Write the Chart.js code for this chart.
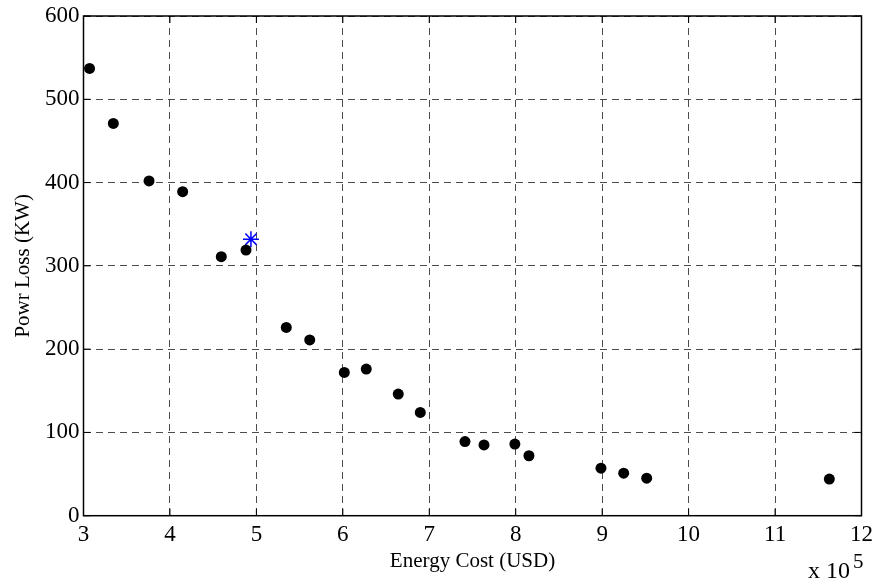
<!DOCTYPE html>
<html>
<head>
<meta charset="utf-8">
<script src="https://cdn.jsdelivr.net/npm/chart.js@4.4.1/dist/chart.umd.min.js"></script>
<style>
  html, body { margin: 0; padding: 0; background: #fff; }
  #wrap { width: 875px; height: 584px; }
</style>
</head>
<body>
<div id="wrap"><canvas id="chart" width="875" height="584"></canvas></div>
<script>
// energy cost in USD, power loss in kW
const energyCost = [307000, 334500, 375800, 414700, 459400, 488000, 534600, 561700,
  601700, 627100, 664100, 689600, 741300, 763300, 799000, 815300, 898600, 924900, 951500, 1162800];
const powerLoss = [537, 471, 402, 389, 311, 319, 226, 211,
  172, 176, 146, 124, 89, 85, 86, 72, 57, 51, 45, 44];

// selected solution (blue star)
const bestCost = [493700];
const bestLoss = [332];

const xTicks = [3, 4, 5, 6, 7, 8, 9, 10, 11, 12];
const yTicks = [0, 100, 200, 300, 400, 500, 600];

const serif = "'Liberation Serif', 'Times New Roman', serif";

const framePlugin = {
  id: "frame",
  afterDraw(chart) {
    const { ctx, chartArea: a } = chart;
    ctx.save();
    ctx.strokeStyle = "#000";
    ctx.lineWidth = 1.5;
    ctx.strokeRect(a.left, a.top, a.right - a.left, a.bottom - a.top);

    // small inward tick marks like matlab
    ctx.lineWidth = 1;
    const xs = chart.scales.x, ys = chart.scales.y;
    xTicks.forEach((t) => {
      const px = xs.getPixelForValue(t * 1e5);
      ctx.beginPath();
      ctx.moveTo(px, a.bottom); ctx.lineTo(px, a.bottom - 7);
      ctx.moveTo(px, a.top); ctx.lineTo(px, a.top + 7);
      ctx.stroke();
    });
    yTicks.forEach((t) => {
      const py = ys.getPixelForValue(t);
      ctx.beginPath();
      ctx.moveTo(a.left, py); ctx.lineTo(a.left + 7, py);
      ctx.moveTo(a.right, py); ctx.lineTo(a.right - 7, py);
      ctx.stroke();
    });

    // exponent label
    ctx.fillStyle = "#000";
    ctx.textBaseline = "alphabetic";
    ctx.textAlign = "left";
    ctx.font = "24px " + serif;
    ctx.fillText("x 10", 808, 578);
    ctx.font = "21px " + serif;
    ctx.fillText("5", 853, 568);
    ctx.restore();
  },
};

new Chart(document.getElementById("chart"), {
  type: "scatter",
  data: {
    datasets: [
      {
        label: "solutions",
        data: energyCost.map((c, i) => ({ x: c, y: powerLoss[i] })),
        pointStyle: "circle",
        pointRadius: 5.5,
        backgroundColor: "#000",
        borderColor: "#000",
        borderWidth: 0,
      },
      {
        label: "best",
        data: bestCost.map((c, i) => ({ x: c, y: bestLoss[i] })),
        pointStyle: "star",
        pointRadius: 8,
        backgroundColor: "#0000ff",
        borderColor: "#0000ff",
        borderWidth: 1.5,
      },
    ],
  },
  options: {
    responsive: false,
    animation: false,
    layout: { padding: { top: 16, right: 13.5, left: 0, bottom: 0 } },
    plugins: {
      legend: { display: false },
      tooltip: { enabled: false },
    },
    scales: {
      x: {
        type: "linear",
        min: 300000,
        max: 1200000,
        afterBuildTicks: (scale) => {
          scale.ticks = xTicks.map((v) => ({ value: v * 1e5 }));
        },
        afterFit: (scale) => {
          scale.height = 68.3;
          scale.paddingLeft = 0;
          scale.paddingRight = 0;
        },
        ticks: {
          color: "#000",
          font: { family: serif, size: 23 },
          padding: 5,
          maxRotation: 0,
          callback: (v) => String(Math.round(v / 1e5)),
        },
        grid: {
          color: "rgba(0,0,0,0.7)",
          lineWidth: 1,
          drawTicks: false,
        },
        border: { display: false, dash: [7, 5] },
        title: {
          display: true,
          text: "Energy Cost (USD)",
          color: "#000",
          font: { family: serif, size: 21 },
          padding: { top: 0, bottom: 9.5 },
        },
      },
      y: {
        type: "linear",
        min: 0,
        max: 600,
        afterBuildTicks: (scale) => {
          scale.ticks = yTicks.map((v) => ({ value: v }));
        },
        afterFit: (scale) => {
          scale.width = 83.5;
          scale.paddingTop = 0;
          scale.paddingBottom = 0;
        },
        ticks: {
          color: "#000",
          font: { family: serif, size: 23 },
          padding: 4,
        },
        grid: {
          color: "rgba(0,0,0,0.7)",
          lineWidth: 1,
          drawTicks: false,
        },
        border: { display: false, dash: [7, 5] },
        title: {
          display: true,
          text: "Powr Loss (KW)",
          color: "#000",
          font: { family: serif, size: 21 },
          padding: { top: 11, bottom: 0 },
        },
      },
    },
  },
  plugins: [framePlugin],
});
</script>
</body>
</html>
